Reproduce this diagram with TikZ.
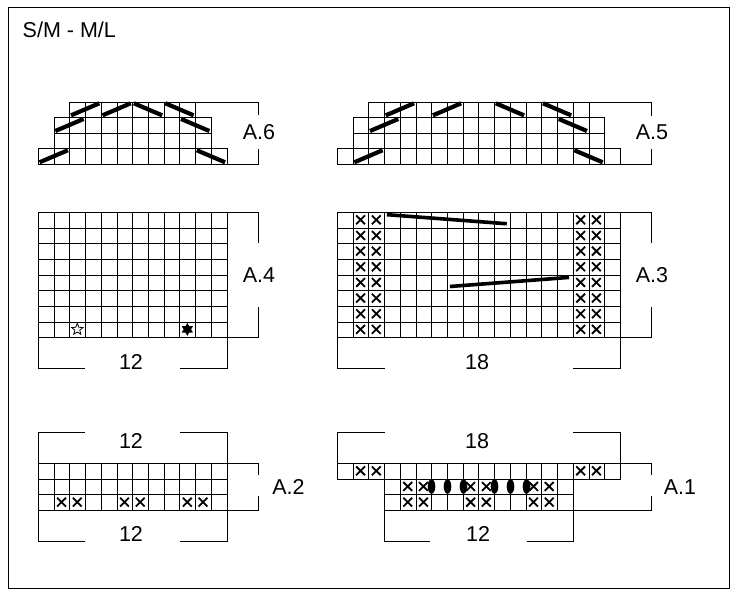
\documentclass[tikz,border=0pt]{standalone}
\usepackage{fontspec}
\setmainfont{Liberation Sans}
\usetikzlibrary{shapes.geometric}
\newcommand\cw{15.72}
\newcommand\ch{15.65}
% left, top, ncols, nrows
\newcommand\cellblock[4]{%
  \foreach \ii in {0,...,#3}{\draw[gridln] ({sn(#1+\ii*\cw)},{sn(#2)}) -- ({sn(#1+\ii*\cw)},{sn(#2+#4*\ch)});}
  \foreach \jj in {0,...,#4}{\draw[gridln] ({sn(#1)},{sn(#2+\jj*\ch)}) -- ({sn(#1+#3*\cw)},{sn(#2+\jj*\ch)});}
}
% col, row, left, top
\newcommand\xcell[4]{%
  \draw[xmark] ({#3+(#1+0.22)*\cw},{#4+(#2+0.22)*\ch}) -- ({#3+(#1+0.78)*\cw},{#4+(#2+0.78)*\ch})
               ({#3+(#1+0.78)*\cw},{#4+(#2+0.22)*\ch}) -- ({#3+(#1+0.22)*\cw},{#4+(#2+0.78)*\ch});}
% col, left, top of row
\newcommand\cabup[3]{\draw[cable] ({#2+(#1+0.1)*\cw},{#3+\ch-1.8}) -- ({#2+(#1+1.9)*\cw},{#3+1.8});}
\newcommand\cabdn[3]{\draw[cable] ({#2+(#1+0.1)*\cw},{#3+1.8}) -- ({#2+(#1+1.9)*\cw},{#3+\ch-1.8});}
\begin{document}
\begin{tikzpicture}[x=1pt,y=-1pt,
  declare function={sn(\v)=round(\v)+0.5;},
  gridln/.style={line width=1.45pt, line cap=rect},
  brk/.style={line width=1.45pt},
  cable/.style={line width=4.2pt},
  xmark/.style={line width=1.8pt},
  lbl/.style={inner sep=0pt, font=\fontsize{21.5}{25}\selectfont}]
\useasboundingbox (0,0) rectangle (738,600);
\draw[line width=1.4pt] (8.5,7.5) rectangle (729.5,588.5);
\node[lbl, anchor=base west] (title) at (22.5,37.3) {S/M - M/L};

% ---------- A.6 ----------
\def\L{38}\def\T{101.5}
\cellblock{\L+2*\cw}{\T}{8}{1}
\cellblock{\L+\cw}{\T+\ch}{10}{2}
\cellblock{\L}{\T+3*\ch}{12}{1}
\cabup{0}{\L+2*\cw}{\T}\cabup{2}{\L+2*\cw}{\T}
\cabdn{4}{\L+2*\cw}{\T}\cabdn{6}{\L+2*\cw}{\T}
\cabup{0}{\L+\cw}{\T+\ch}\cabdn{8}{\L+\cw}{\T+\ch}
\cabup{0}{\L}{\T+3*\ch}\cabdn{10}{\L}{\T+3*\ch}
\draw[brk] ({sn(\L+10*\cw)},{sn(\T)}) -- (258.5,{sn(\T)}) -- (258.5,115);
\draw[brk] (258.5,149.3) -- (258.5,{sn(\T+4*\ch)}) -- ({sn(\L+12*\cw)},{sn(\T+4*\ch)});
\node[lbl] (a6) at (259,132.5) {A.6};

% ---------- A.5 ----------
\def\L{337}\def\T{101.5}
\cellblock{\L+2*\cw}{\T}{14}{1}
\cellblock{\L+\cw}{\T+\ch}{16}{2}
\cellblock{\L}{\T+3*\ch}{18}{1}
\cabup{1}{\L+2*\cw}{\T}\cabup{4}{\L+2*\cw}{\T}
\cabdn{8}{\L+2*\cw}{\T}\cabdn{11}{\L+2*\cw}{\T}
\cabup{1}{\L+\cw}{\T+\ch}\cabdn{13}{\L+\cw}{\T+\ch}
\cabup{1}{\L}{\T+3*\ch}\cabdn{15}{\L}{\T+3*\ch}
\draw[brk] ({sn(\L+16*\cw)},{sn(\T)}) -- (651.5,{sn(\T)}) -- (651.5,116);
\draw[brk] (651.5,149.3) -- (651.5,{sn(\T+4*\ch)}) -- ({sn(\L+18*\cw)},{sn(\T+4*\ch)});
\node[lbl] (a5) at (652,132.5) {A.5};

% ---------- A.4 ----------
\def\L{38}\def\T{212}
\cellblock{\L}{\T}{12}{8}
\node[star, star points=5, star point ratio=2.3, draw, line width=0.8pt, minimum size=12pt, inner sep=0pt]
  (s1) at ({\L+2.5*\cw},{\T+7.5*\ch}) {};
\node[star, star points=6, star point ratio=1.75, fill=black, minimum size=13pt, inner sep=0pt]
  (s2) at ({\L+9.5*\cw},{\T+7.5*\ch}) {};
\draw[brk] ({sn(\L+12*\cw)},{sn(\T)}) -- (258.5,{sn(\T)}) -- (258.5,243);
\draw[brk] (258.5,307) -- (258.5,{sn(\T+8*\ch)}) -- ({sn(\L+12*\cw)},{sn(\T+8*\ch)});
\draw[brk] ({sn(\L)},{sn(\T+8*\ch)}) -- ({sn(\L)},368.5) -- (85,368.5);
\draw[brk] (180,368.5) -- ({sn(\L+12*\cw)},368.5) -- ({sn(\L+12*\cw)},{sn(\T+8*\ch)});
\node[lbl] (a4) at (259,275.5) {A.4};
\node[lbl] (n4) at (131,361.7) {12};

% ---------- A.3 ----------
\def\L{337}\def\T{212}
\cellblock{\L}{\T}{18}{8}
\foreach \r in {0,...,7}{\xcell{1}{\r}{\L}{\T}\xcell{2}{\r}{\L}{\T}\xcell{15}{\r}{\L}{\T}\xcell{16}{\r}{\L}{\T}}
\draw[line width=3.6pt] ({\L+3.17*\cw},{\T+0.17*\ch}) -- ({\L+10.8*\cw},{\T+0.75*\ch});
\draw[line width=3.6pt] ({\L+7.18*\cw},{\T+4.76*\ch}) -- ({\L+14.76*\cw},{\T+4.18*\ch});
\draw[brk] ({sn(\L+18*\cw)},{sn(\T)}) -- (651.5,{sn(\T)}) -- (651.5,243);
\draw[brk] (651.5,307) -- (651.5,{sn(\T+8*\ch)}) -- ({sn(\L+18*\cw)},{sn(\T+8*\ch)});
\draw[brk] ({sn(\L)},{sn(\T+8*\ch)}) -- ({sn(\L)},368.5) -- (385,368.5);
\draw[brk] (573,368.5) -- ({sn(\L+18*\cw)},368.5) -- ({sn(\L+18*\cw)},{sn(\T+8*\ch)});
\node[lbl] (a3) at (652,275.5) {A.3};
\node[lbl] (n3) at (477,361.7) {18};

% ---------- A.2 ----------
\def\L{38}\def\T{463}
\cellblock{\L}{\T}{12}{3}
\foreach \c in {1,2,5,6,9,10}{\xcell{\c}{2}{\L}{\T}}
\draw[brk] ({sn(\L)},{sn(\T)}) -- ({sn(\L)},432.5) -- (85,432.5);
\draw[brk] (180,432.5) -- ({sn(\L+12*\cw)},432.5) -- ({sn(\L+12*\cw)},{sn(\T)});
\draw[brk] ({sn(\L+12*\cw)},{sn(\T)}) -- (258.5,{sn(\T)}) -- (258.5,475);
\draw[brk] (258.5,496) -- (258.5,{sn(\T+3*\ch)}) -- ({sn(\L+12*\cw)},{sn(\T+3*\ch)});
\draw[brk] ({sn(\L)},{sn(\T+3*\ch)}) -- ({sn(\L)},541.5) -- (85,541.5);
\draw[brk] (180,541.5) -- ({sn(\L+12*\cw)},541.5) -- ({sn(\L+12*\cw)},{sn(\T+3*\ch)});
\node[lbl] (a2) at (288.5,487) {A.2};
\node[lbl] (n2t) at (131,440.8) {12};
\node[lbl] (n2b) at (131,534.2) {12};

% ---------- A.1 ----------
\def\L{337}\def\T{463}
\pgfmathsetmacro\Lb{\L+3*\cw}
\cellblock{\L}{\T}{18}{1}
\cellblock{\Lb}{\T+\ch}{12}{2}
\foreach \c in {1,2,15,16}{\xcell{\c}{0}{\L}{\T}}
\foreach \c in {1,2,5,6,9,10}{\xcell{\c}{0}{\Lb}{\T+\ch}\xcell{\c}{1}{\Lb}{\T+\ch}}
\foreach \k in {3,4,5,7,8,9}{\fill ({sn(\Lb+\k*\cw)},{\T+1.5*\ch}) ellipse [x radius=3.8, y radius=7.3];}
\draw[brk] ({sn(\L)},{sn(\T)}) -- ({sn(\L)},432.5) -- (385,432.5);
\draw[brk] (573.3,432.5) -- ({sn(\L+18*\cw)},432.5) -- ({sn(\L+18*\cw)},{sn(\T)});
\draw[brk] ({sn(\L+18*\cw)},{sn(\T)}) -- (651.5,{sn(\T)}) -- (651.5,475);
\draw[brk] (651.5,496) -- (651.5,{sn(\T+3*\ch)}) -- ({sn(\Lb+12*\cw)},{sn(\T+3*\ch)});
\draw[brk] ({sn(\Lb)},{sn(\T+3*\ch)}) -- ({sn(\Lb)},541.5) -- (430,541.5);
\draw[brk] (526.7,541.5) -- ({sn(\Lb+12*\cw)},541.5) -- ({sn(\Lb+12*\cw)},{sn(\T+3*\ch)});
\node[lbl] (a1) at (680,487) {A.1};
\node[lbl] (n1t) at (477,440.8) {18};
\node[lbl] (n1b) at (478,534.2) {12};
\end{tikzpicture}
\end{document}
